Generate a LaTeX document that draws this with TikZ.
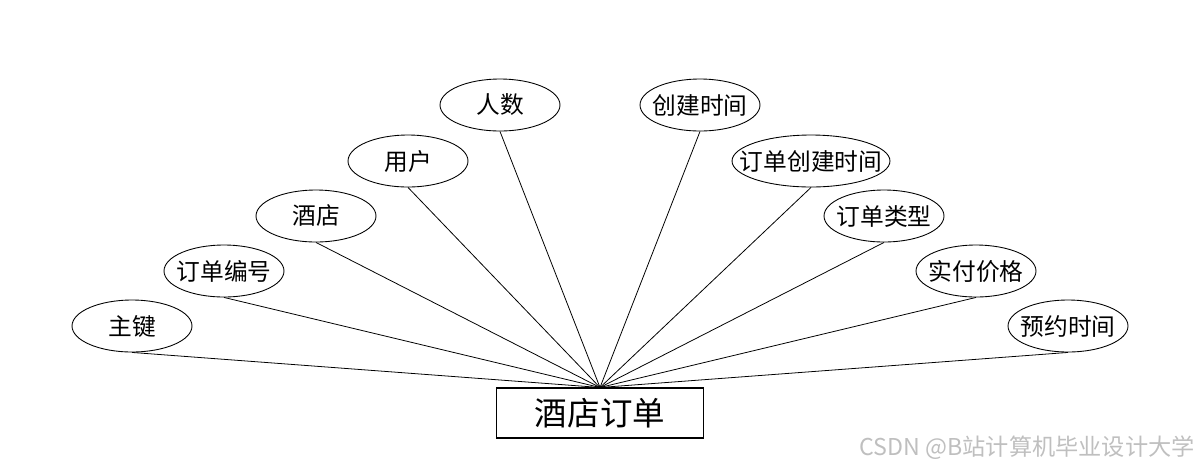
\documentclass[tikz,border=0pt]{standalone}
\usepackage{fontspec}
\setmainfont{Noto Sans CJK SC}
\usetikzlibrary{shapes.geometric}

\begin{document}
\begin{tikzpicture}[
          x=0.02cm, y=-0.02cm,
          attr/.style={ellipse, draw, line width=0.5pt, inner sep=0pt, minimum width=2.4cm, minimum height=1.04cm, font=\fontsize{13.5}{15}\selectfont,
            execute at begin node=\hbox to 0pt\bgroup\hss, execute at end node=\hss\egroup},
          entity/.style={rectangle, draw, line width=0.6pt, minimum width=4.14cm, minimum height=1cm, font=\fontsize{18.5}{20}\selectfont},
          link/.style={line width=0.45pt}
        ]
          \useasboundingbox (0,0) rectangle (1200,468);
          \node[entity] (order) at (600,413) {酒店订单};

          \node[attr] (zhujian) at (132,326) {主键};
          \node[attr] (bianhao) at (224,271) {订单编号};
          \node[attr] (jiudian) at (316,216) {酒店};
          \node[attr] (yonghu) at (408,161) {用户};
          \node[attr] (renshu) at (500,105) {人数};
          \node[attr] (chuangjian) at (700,105) {创建时间};
          \node[attr, minimum width=3.16cm] (ddchuangjian) at (811,161) {订单创建时间};
          \node[attr] (leixing) at (884,216) {订单类型};
          \node[attr] (jiage) at (976,271) {实付价格};
          \node[attr] (yuyue) at (1068,326) {预约时间};

          \foreach \a in {zhujian, bianhao, jiudian, yonghu, renshu, chuangjian, ddchuangjian, leixing, jiage, yuyue}
            \draw[link] (\a.south) -- (order.north);

          % watermark
          \node[anchor=east, text=black!25, font=\fontsize{13.2}{15}\selectfont, inner sep=0pt] (mark) at (1195,448) {CSDN @B站计算机毕业设计大学};
        \end{tikzpicture}
\end{document}
